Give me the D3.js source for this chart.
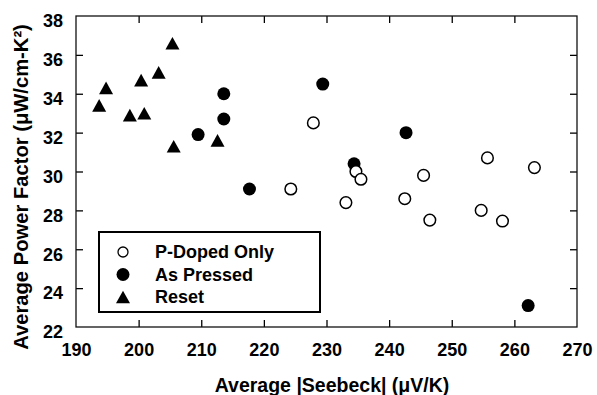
<!DOCTYPE html>
<html>
<head>
<meta charset="utf-8">
<script src="https://cdn.jsdelivr.net/npm/d3@7"></script>
<style>
  body { margin: 0; background: #fff; }
  text { font-family: "Liberation Sans", Arial, sans-serif; font-weight: bold; fill: #000; }
</style>
</head>
<body>
<svg id="chart"></svg>
<script>
// series
const pDopedX = [224.3, 227.9, 233.1, 234.7, 235.5, 242.5, 245.5, 246.5, 254.7, 255.7, 258.1, 263.2];
const pDopedY = [29.1, 32.5, 28.4, 30.0, 29.6, 28.6, 29.8, 27.5, 28.0, 30.7, 27.45, 30.2];

const pressedX = [209.5, 213.6, 213.6, 217.7, 229.4, 234.4, 242.7, 262.2];
const pressedY = [31.9, 34.0, 32.7, 29.1, 34.5, 30.4, 32.0, 23.1];

const resetX = [193.7, 194.8, 198.6, 200.4, 200.9, 203.2, 205.4, 205.6, 212.6];
const resetY = [33.4, 34.3, 32.9, 34.7, 33.0, 35.1, 36.6, 31.3, 31.6];

const xTicks = [190, 200, 210, 220, 230, 240, 250, 260, 270];
const yTicks = [22, 24, 26, 28, 30, 32, 34, 36, 38];

const legendItems = ["P-Doped Only", "As Pressed", "Reset"];

const xLabel = "Average |Seebeck| (\u03BCV/K)";
const yLabel = "Average Power Factor (\u03BCW/cm-K\u00B2)";

const width = 597;
const height = 395;
const margin = { top: 16, right: 20, bottom: 68, left: 76 };

const svg = d3.select("#chart").attr("width", width).attr("height", height);

const xScale = d3.scaleLinear().domain([190, 270]).range([margin.left, width - margin.right]);
const yScale = d3.scaleLinear().domain([22, 38]).range([height - margin.bottom, margin.top]);

const zip = (xs, ys) => xs.map((x, i) => ({ x, y: ys[i] }));

// frame with inward ticks on all four sides
const tickLen = 7;
const innerX = xTicks.slice(1, -1);
const innerY = yTicks.slice(1, -1);

svg
  .append("g")
  .attr("transform", `translate(0, ${height - margin.bottom})`)
  .call(d3.axisBottom(xScale).tickValues(xTicks).tickSizeInner(-tickLen).tickSizeOuter(0).tickPadding(16))
  .call((g) => g.select(".domain").remove())
  .call((g) => g.selectAll(".tick line").attr("opacity", (d) => (innerX.includes(d) ? 1 : 0)))
  .call((g) => g.selectAll("text").attr("font-size", 18).attr("fill", "#000"));

svg
  .append("g")
  .attr("transform", `translate(${margin.left}, 0)`)
  .call(d3.axisLeft(yScale).tickValues(yTicks).tickSizeInner(-tickLen).tickSizeOuter(0).tickPadding(13))
  .call((g) => g.select(".domain").remove())
  .call((g) => g.selectAll(".tick line").attr("opacity", (d) => (innerY.includes(d) ? 1 : 0)))
  .call((g) => g.selectAll("text").attr("font-size", 18).attr("fill", "#000").attr("dy", "0.6em"));

svg
  .append("g")
  .attr("transform", `translate(0, ${margin.top})`)
  .call(d3.axisTop(xScale).tickValues(innerX).tickSizeInner(-tickLen).tickSizeOuter(0).tickFormat(""))
  .call((g) => g.select(".domain").remove());

svg
  .append("g")
  .attr("transform", `translate(${width - margin.right}, 0)`)
  .call(d3.axisRight(yScale).tickValues(innerY).tickSizeInner(-tickLen).tickSizeOuter(0).tickFormat(""))
  .call((g) => g.select(".domain").remove());

svg.selectAll(".tick line").attr("stroke", "#000").attr("stroke-width", 1.3);

svg
  .append("rect")
  .attr("x", margin.left)
  .attr("y", margin.top)
  .attr("width", width - margin.left - margin.right)
  .attr("height", height - margin.top - margin.bottom)
  .attr("fill", "none")
  .attr("stroke", "#111")
  .attr("stroke-width", 1.3);

// markers
const triangle = (cx, cy, s) =>
  `M${cx},${cy - s * 0.45}L${cx + s / 2},${cy + s * 0.45}L${cx - s / 2},${cy + s * 0.45}Z`;

svg
  .append("g")
  .selectAll("path")
  .data(zip(resetX, resetY))
  .join("path")
  .attr("d", (d) => triangle(xScale(d.x), yScale(d.y), 14))
  .attr("fill", "#000");

svg
  .append("g")
  .selectAll("circle")
  .data(zip(pressedX, pressedY))
  .join("circle")
  .attr("cx", (d) => xScale(d.x))
  .attr("cy", (d) => yScale(d.y))
  .attr("r", 6.5)
  .attr("fill", "#000");

svg
  .append("g")
  .selectAll("circle")
  .data(zip(pDopedX, pDopedY))
  .join("circle")
  .attr("cx", (d) => xScale(d.x))
  .attr("cy", (d) => yScale(d.y))
  .attr("r", 5.8)
  .attr("fill", "#fff")
  .attr("stroke", "#000")
  .attr("stroke-width", 1.5);

// legend
const legend = svg.append("g").attr("transform", "translate(99, 232)");
legend
  .append("rect")
  .attr("width", 221)
  .attr("height", 80)
  .attr("fill", "#fff")
  .attr("stroke", "#000")
  .attr("stroke-width", 2);

const rows = legend
  .selectAll(".row")
  .data(legendItems)
  .join("g")
  .attr("class", "row")
  .attr("transform", (d, i) => `translate(0, ${20 + i * 22.5})`);

rows.each(function (d, i) {
  const row = d3.select(this);
  if (i === 0) {
    row.append("circle").attr("cx", 24).attr("r", 5).attr("fill", "#fff").attr("stroke", "#000").attr("stroke-width", 1.3);
  } else if (i === 1) {
    row.append("circle").attr("cx", 24).attr("r", 6.5).attr("fill", "#000");
  } else {
    row.append("path").attr("d", triangle(24, 0, 14)).attr("fill", "#000");
  }
});

rows
  .append("text")
  .attr("x", 56)
  .attr("dy", "0.36em")
  .attr("font-size", 18)
  .text((d) => d);

// axis titles
svg
  .append("text")
  .attr("x", 332)
  .attr("y", 392)
  .attr("text-anchor", "middle")
  .attr("font-size", 19.5)
  .text(xLabel);

svg
  .append("text")
  .attr("x", 0)
  .attr("y", 0)
  .attr("text-anchor", "middle")
  .attr("transform", "translate(28, 187) rotate(-90)")
  .attr("font-size", 20.2)
  .text(yLabel);
</script>
</body>
</html>
